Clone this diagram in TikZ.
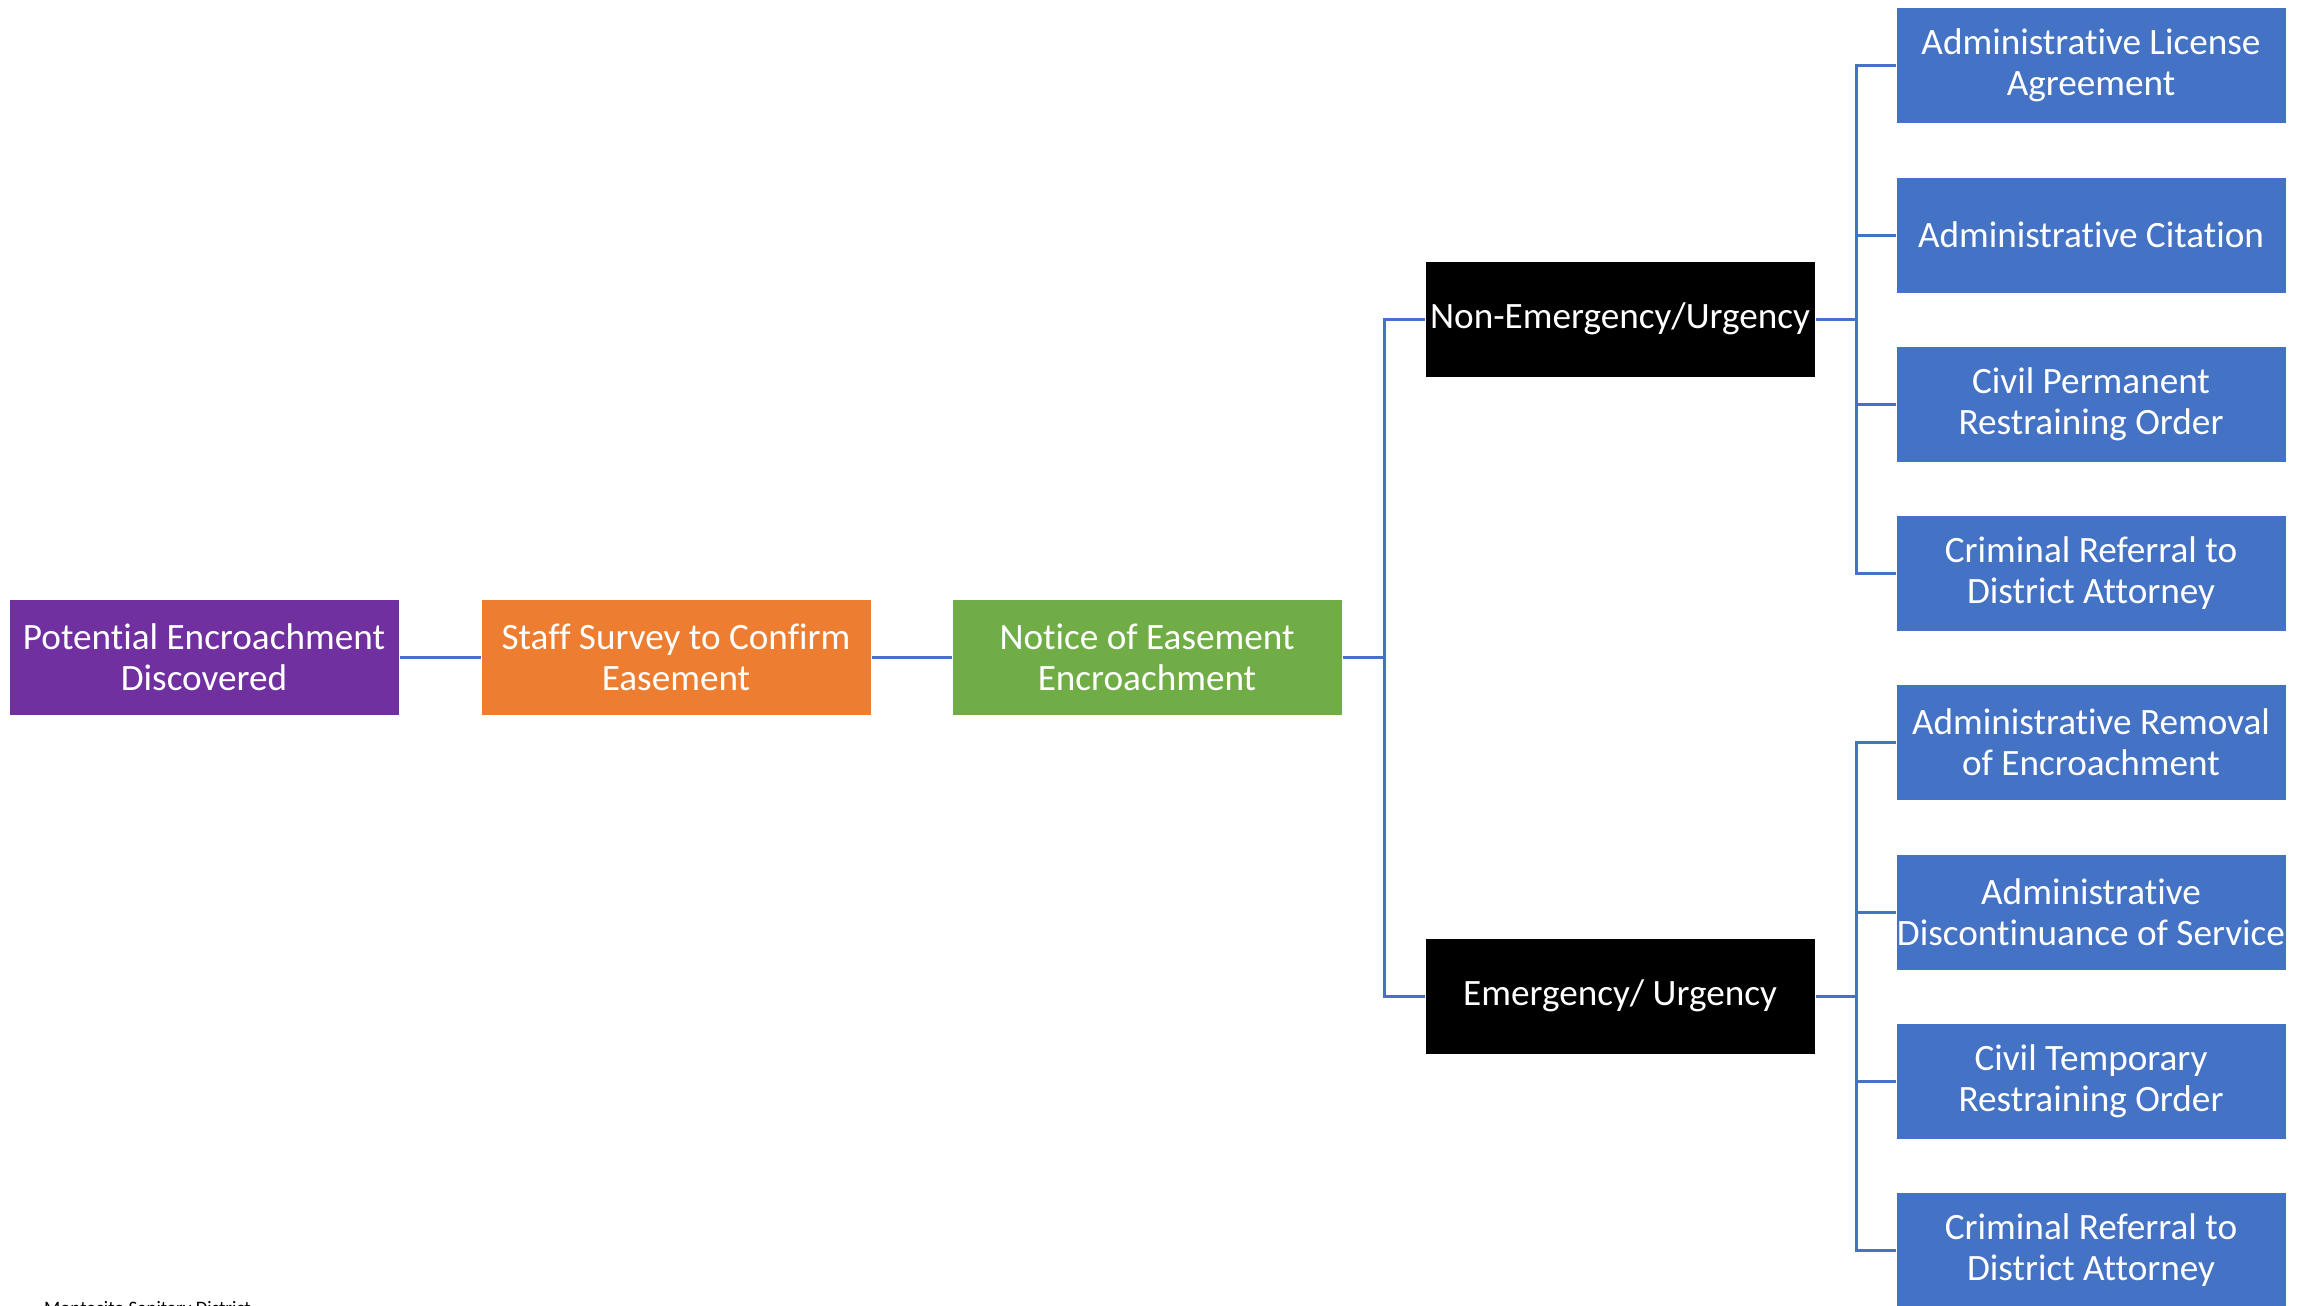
\documentclass[tikz,border=0pt]{standalone}
\usepackage{fontspec}
\setmainfont[Ligatures=NoCommon]{Carlito}
\definecolor{cpurple}{HTML}{7030A0}
\definecolor{corange}{HTML}{ED7D31}
\definecolor{cgreen}{HTML}{70AD47}
\definecolor{cblue}{HTML}{4472C4}
\definecolor{cline}{HTML}{4472C4}
\tikzset{
  box/.style={minimum width=390pt, minimum height=116pt, inner sep=0pt, align=center,
    text=white, font=\fontsize{37.2}{41}\selectfont, draw=white, line width=1pt},
  bluebox/.style={box, fill=cblue},
  conn/.style={draw=cline, line width=3pt}
}
\begin{document}
\begin{tikzpicture}[x=1pt,y=-1pt]
\useasboundingbox (0,0) rectangle (2308,1306);
\clip (0,0) rectangle (2308,1306);
\node[box, fill=cpurple] (pot) at (204,657) {Potential Encroachment\\Discovered};
\node[box, fill=corange] (staff) at (676,657) {Staff Survey to Confirm\\Easement};
\node[box, fill=cgreen] (notice) at (1147,657) {Notice of Easement\\Encroachment};
\node[box, fill=black] (nonem) at (1620,319) {Non-Emergency/Urgency};
\node[box, fill=black] (em) at (1620,996) {Emergency/ Urgency};
\node[bluebox] (b1) at (2091,65.5) {Administrative License\\Agreement};
\node[bluebox] (b2) at (2091,235) {Administrative Citation};
\node[bluebox] (b3) at (2091,404) {Civil Permanent\\Restraining Order};
\node[bluebox] (b4) at (2091,573) {Criminal Referral to\\District Attorney};
\node[bluebox] (b5) at (2091,742.5) {Administrative Removal\\of Encroachment};
\node[bluebox] (b6) at (2091,912) {Administrative\\Discontinuance of Service};
\node[bluebox] (b7) at (2091,1081) {Civil Temporary\\Restraining Order};
\node[bluebox] (b8) at (2091,1250.5) {Criminal Referral to\\District Attorney};
\coordinate (j1) at (1384,657);
\coordinate (j2) at (1856,319);
\coordinate (j3) at (1856,996);
\draw[conn] (pot.east) -- (staff.west);
\draw[conn] (staff.east) -- (notice.west);
\draw[conn] (notice.east) -- (j1);
\draw[conn] (j1) |- (nonem.west);
\draw[conn] (j1) |- (em.west);
\draw[conn] (nonem.east) -- (j2);
\draw[conn] (em.east) -- (j3);
\foreach \b in {b1,b2,b3,b4}{\draw[conn] (j2) |- (\b.west);}
\foreach \b in {b5,b6,b7,b8}{\draw[conn] (j3) |- (\b.west);}
\node[anchor=base west, inner sep=0pt, font=\fontsize{19}{22}\selectfont, text=black] (foot) at (44,1314) {Montecito Sanitary District};
\end{tikzpicture}
\end{document}
